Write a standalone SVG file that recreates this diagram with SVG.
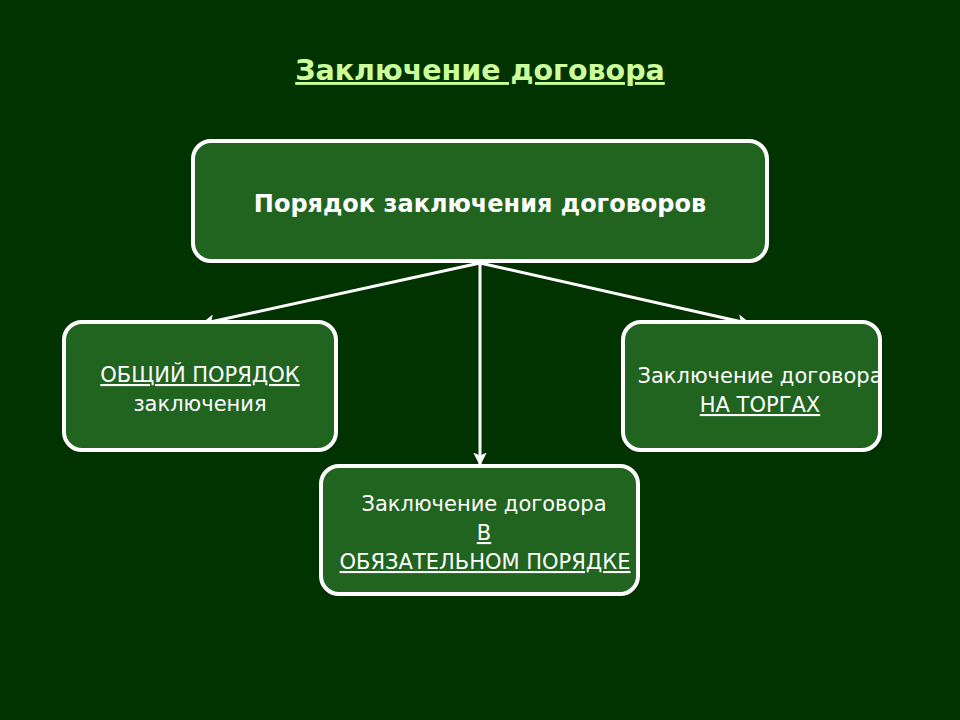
<svg xmlns="http://www.w3.org/2000/svg" width="960" height="720" viewBox="0 0 960 720">
<defs>
<style>
.box{fill:#206420;stroke:#ffffff;stroke-width:4}
.t{font-family:"DejaVu Sans","Liberation Sans",sans-serif;fill:#ffffff;text-anchor:middle;font-size:21px}
.u{text-decoration:underline}
.conn{stroke:#ffffff;stroke-width:3;fill:none;marker-end:url(#ah)}
</style>
<marker id="ah" markerWidth="4.5" markerHeight="4.5" refX="4.5" refY="2.25" orient="auto" markerUnits="strokeWidth">
<path d="M0,0 L4.5,2.25 L0,4.5 L1,2.25 z" fill="#ffffff"/>
</marker>
</defs>
<rect width="960" height="720" fill="#003300"/>
<text x="480" y="80" font-family="DejaVu Sans,Liberation Sans,sans-serif" font-weight="bold" font-size="28.5" fill="#ccff99" text-anchor="middle" text-decoration="underline">Заключение договора</text>
<g id="connectors">
<line class="conn" x1="480" y1="263" x2="201" y2="324"/>
<line class="conn" x1="480" y1="263" x2="751" y2="324"/>
<line class="conn" x1="480" y1="263" x2="480" y2="466"/>
</g>
<g id="top">
<rect class="box" x="193" y="141" width="574" height="120" rx="18"/>
<text class="t" x="480" y="212" font-weight="bold" style="font-size:24px">Порядок заключения договоров</text>
</g>
<g id="left">
<rect class="box" x="64" y="322" width="272" height="128" rx="18"/>
<text class="t u" x="200" y="382">ОБЩИЙ ПОРЯДОК </text>
<text class="t" x="200" y="411">заключения</text>
</g>
<g id="right">
<rect class="box" x="623" y="322" width="257" height="128" rx="18"/>
<text class="t" x="760" y="383">Заключение договора</text>
<text class="t u" x="760" y="412">НА ТОРГАХ</text>
</g>
<g id="bottom">
<rect class="box" x="321" y="466" width="317" height="128" rx="18"/>
<text class="t" x="484" y="511">Заключение договора</text>
<text class="t u" x="484" y="540">В </text>
<text class="t u" x="485" y="569">ОБЯЗАТЕЛЬНОМ ПОРЯДКЕ</text>
</g>
</svg>
